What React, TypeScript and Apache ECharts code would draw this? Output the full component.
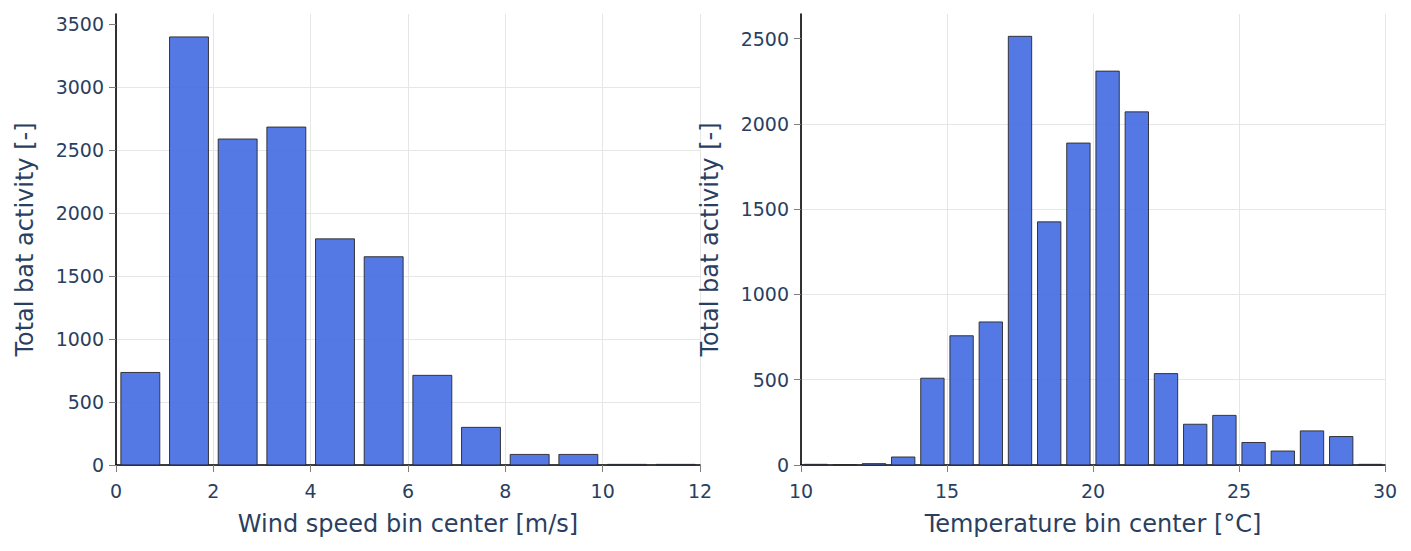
import React, { useEffect, useRef } from "react";
import * as echarts from "echarts";

// ---- data ----
const windCenters = [0.5, 1.5, 2.5, 3.5, 4.5, 5.5, 6.5, 7.5, 8.5, 9.5, 10.5, 11.5];
const windActivity = [735, 3400, 2589, 2684, 1796, 1654, 712, 299, 84, 84, 5, 5];

const tempCenters = [
  10.5, 11.5, 12.5, 13.5, 14.5, 15.5, 16.5, 17.5, 18.5, 19.5,
  20.5, 21.5, 22.5, 23.5, 24.5, 25.5, 26.5, 27.5, 28.5, 29.5,
];
const tempActivity = [
  4, 2, 8, 47, 509, 758, 839, 2514, 1426, 1888,
  2310, 2071, 536, 239, 291, 132, 82, 200, 167, 4,
];

const windXTicks = [0, 2, 4, 6, 8, 10, 12];
const windYTicks = [0, 500, 1000, 1500, 2000, 2500, 3000, 3500];
const tempXTicks = [10, 15, 20, 25, 30];
const tempYTicks = [0, 500, 1000, 1500, 2000, 2500];

const binWidth = 1;
const barFraction = 0.8;

const windTitle = "Wind speed bin center [m/s]";
const tempTitle = "Temperature bin center [°C]";
const yTitle = "Total bat activity [-]";

// ---- styles ----
const FONT = "DejaVu Sans, Verdana, sans-serif";
const TEXT = "#2a3f5f";
const GRID = "#e6e6e6";
const TICK = "#7f7f7f";
const BAR_FILL = "rgba(65,105,225,0.9)";
const BAR_STROKE = "rgba(40,40,40,0.9)";

const plain = (v: number) => String(v);

function makeXAxis(gridIndex: number, min: number, max: number, interval: number, name: string) {
  return {
    type: "value",
    gridIndex,
    min,
    max,
    interval,
    name,
    nameLocation: "middle",
    nameGap: 47,
    nameTextStyle: { color: TEXT, fontSize: 24, fontFamily: FONT },
    axisLine: { show: true, onZero: false, lineStyle: { color: "#000", width: 1.6 } },
    axisTick: { show: true, inside: false, length: 7, lineStyle: { color: TICK, width: 1 } },
    axisLabel: { color: TEXT, fontSize: 19, fontFamily: FONT, margin: 16, formatter: plain },
    splitLine: { show: true, lineStyle: { color: GRID, width: 1 } },
  };
}

function makeYAxis(gridIndex: number, max: number, ticks: number[]) {
  return {
    type: "value",
    gridIndex,
    min: 0,
    max,
    interval: 500,
    name: yTitle,
    nameLocation: "middle",
    nameGap: 79,
    nameTextStyle: { color: TEXT, fontSize: 24, fontFamily: FONT },
    axisLine: { show: true, lineStyle: { color: "#000", width: 1.6 } },
    axisTick: { show: true, inside: false, length: 7, customValues: ticks, lineStyle: { color: TICK, width: 1 } },
    axisLabel: { color: TEXT, fontSize: 19, fontFamily: FONT, margin: 12, customValues: ticks, formatter: plain },
    splitLine: { show: true, showMaxLine: false, lineStyle: { color: GRID, width: 1 } },
  };
}

function barSeries(xAxisIndex: number, centers: number[], values: number[]) {
  return {
    type: "custom",
    xAxisIndex,
    yAxisIndex: xAxisIndex,
    encode: { x: 0, y: 1 },
    data: centers.map((c, i) => [c, values[i]]),
    renderItem: (_params: any, api: any) => {
      const x = api.value(0);
      const y = api.value(1);
      const half = (binWidth * barFraction) / 2;
      const p0 = api.coord([x - half, y]);
      const p1 = api.coord([x + half, 0]);
      return {
        type: "rect",
        shape: { x: p0[0], y: p0[1], width: p1[0] - p0[0], height: p1[1] - p0[1] },
        style: { fill: BAR_FILL, stroke: BAR_STROKE, lineWidth: 1 },
      };
    },
  };
}

export default function App() {
  const ref = useRef<HTMLDivElement>(null);

  useEffect(() => {
    if (!ref.current) return;
    const chart = echarts.init(ref.current, undefined, { renderer: "svg" });
    chart.setOption({
      animation: false,
      backgroundColor: "#fff",
      grid: [
        { left: 116, top: 14, width: 584, height: 451 },
        { left: 801, top: 14, width: 584, height: 451 },
      ],
      xAxis: [
        makeXAxis(0, windXTicks[0], windXTicks[windXTicks.length - 1], 2, windTitle),
        makeXAxis(1, tempXTicks[0], tempXTicks[tempXTicks.length - 1], 5, tempTitle),
      ],
      yAxis: [makeYAxis(0, 3582, windYTicks), makeYAxis(1, 2645, tempYTicks)],
      series: [barSeries(0, windCenters, windActivity), barSeries(1, tempCenters, tempActivity)],
    });
    return () => chart.dispose();
  }, []);

  return (
    <div
      ref={ref}
      style={{ position: "absolute", left: 0, top: 0, width: 1411, height: 551, background: "#fff" }}
    />
  );
}
